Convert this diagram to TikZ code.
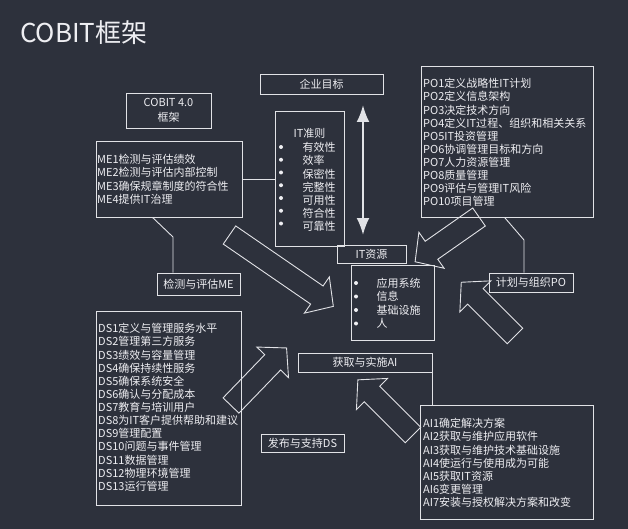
\documentclass[tikz,border=0pt]{standalone}
\usepackage{fontspec}
\setmainfont{Noto Sans CJK SC}
\usepackage{xcolor}
\usetikzlibrary{arrows.meta,calc}

\definecolor{bgcol}{RGB}{45,49,60}
\definecolor{linecol}{RGB}{225,226,230}
\definecolor{txtcol}{RGB}{238,238,242}
\newcommand{\listfont}{\fontsize{11}{12.75}\selectfont}
\newcommand{\boxfont}{\fontsize{11}{15}\selectfont}
% hollow block arrow: x, y (back end), angle, length
\newcommand{\blockarrow}[4]{%
  \draw[blockline, shift={(#1,#2)}, rotate=#3]
    (0,-11) -- ({#4-20},-11) -- ({#4-20},-22) -- (#4,0) -- ({#4-20},22) -- ({#4-20},11) -- (0,11) -- cycle;}

\tikzset{
  box/.style={draw=linecol, line width=0.9pt, inner sep=0pt, text=txtcol, font=\boxfont},
  listtext/.style={inner sep=0pt, anchor=north west, text=txtcol, font=\listfont},
  conn/.style={draw=linecol, line width=0.9pt},
  blockline/.style={draw=linecol, line width=0.9pt, line join=miter},
}

\begin{document}
\begin{tikzpicture}[x=1pt,y=-1pt]
\fill[bgcol] (0,0) rectangle (628,529);
\useasboundingbox (0,0) rectangle (628,529);
%==================== Titolo ==================
\node[anchor=west, inner sep=0pt, text=txtcol, font=\fontsize{26}{30}\selectfont] (title) at (20,33) {COBIT框架};
\node[box, minimum width=85pt, minimum height=35pt, align=center] (cobit) at (168.5,110.5) {COBIT 4.0\\框架};
%==================== Centro ==================
\node[box, minimum width=123pt, minimum height=20pt] (goal) at (321.5,84) {企业目标};
\node[box, minimum width=69pt, minimum height=135pt] (crit) at (309.5,178.5) {};
\node[inner sep=0pt, text=txtcol, font=\listfont] (crithead) at (309.5,133) {IT准则};
\node[listtext] (critlist) at (302.5,142.3) {\begin{tabular}{@{}l@{}}
有效性\\ 效率\\ 保密性\\ 完整性\\ 可用性\\ 符合性\\ 可靠性\end{tabular}};
\foreach \i in {0,...,6} \fill[txtcol] (281,{147+12.75*\i}) circle (2pt);
\coordinate (goaltop) at (363,105);
\coordinate (goalbot) at (363,235);
\draw[{Latex[length=17pt,width=13pt]}-{Latex[length=17pt,width=13pt]}, line width=2.2pt, linecol] (goaltop) -- (goalbot);
\node[box, minimum width=69pt, minimum height=18pt] (res) at (371.5,254) {IT资源};
\node[box, minimum width=83pt, minimum height=75pt] (resbox) at (392.5,302.5) {};
\node[listtext, font=\fontsize{11}{13.5}\selectfont] (reslist) at (376.5,277.8) {\begin{tabular}{@{}l@{}}
应用系统\\ 信息\\ 基础设施\\ 人\end{tabular}};
\foreach \i in {0,...,3} \fill[txtcol] (356,{283+13.5*\i}) circle (2pt);
%==================== ME ==================
\node[box, minimum width=146pt, minimum height=76pt] (me) at (169,179) {};
\node[listtext] (melist) at (97,154.3) {\begin{tabular}{@{}l@{}}
ME1检测与评估绩效\\ ME2检测与评估内部控制\\ ME3确保规章制度的符合性\\ ME4提供IT治理\end{tabular}};
\node[box, minimum width=83pt, minimum height=22pt] (melabel) at (198.5,284) {检测与评估ME};
\coordinate (mebend) at (173,237);
\draw[conn] ($(me.south west)+(57,0)$) -- (mebend) -- (mebend |- melabel.north);
\draw[conn] (me.east) -- (me.east -| crit.west);
%==================== PO ==================
\node[box, minimum width=172pt, minimum height=151pt] (po) at (507,141.5) {};
\node[listtext] (polist) at (423,78.3) {\begin{tabular}{@{}l@{}}
PO1定义战略性IT计划\\ PO2定义信息架构\\ PO3决定技术方向\\ PO4定义IT过程、组织和相关关系\\
PO5IT投资管理\\ PO6协调管理目标和方向\\ PO7人力资源管理\\ PO8质量管理\\
PO9评估与管理IT风险\\ PO10项目管理\end{tabular}};
\node[box, minimum width=84pt, minimum height=19pt] (polabel) at (531,282.5) {计划与组织PO};
\coordinate (pobend) at (524,240);
\draw[conn] ($(po.south west)+(84,0)$) -- (pobend) -- (pobend |- polabel.north);
%==================== AI ==================
\node[box, minimum width=134pt, minimum height=19pt] (ailabel) at (365,362.5) {获取与实施AI};
\node[box, minimum width=173pt, minimum height=114pt] (ai) at (506.5,462) {};
\node[listtext] (ailist) at (423,418.3) {\begin{tabular}{@{}l@{}}
AI1确定解决方案\\ AI2获取与维护应用软件\\ AI3获取与维护技术基础设施\\ AI4使运行与使用成为可能\\
AI5获取IT资源\\ AI6变更管理\\ AI7安装与授权解决方案和改变\end{tabular}};
\draw[conn] (ailabel.south east) -- (ailabel.south east |- ai.north);
%==================== DS ==================
\node[box, minimum width=145pt, minimum height=194pt] (ds) at (168.5,408) {};
\node[listtext] (dslist) at (98,323.3) {\begin{tabular}{@{}l@{}}
DS1定义与管理服务水平\\ DS2管理第三方服务\\ DS3绩效与容量管理\\ DS4确保持续性服务\\
DS5确保系统安全\\ DS6确认与分配成本\\ DS7教育与培训用户\\ DS8为IT客户提供帮助和建议\\
DS9管理配置\\ DS10问题与事件管理\\ DS11数据管理\\ DS12物理环境管理\\ DS13运行管理\end{tabular}};
\node[box, minimum width=83pt, minimum height=18pt] (dslabel) at (302.5,443) {发布与支持DS};
%==================== Frecce ==================
\blockarrow{229.5}{235}{-34.5}{126}
\blockarrow{479}{217}{215}{78}
\blockarrow{515}{336}{135}{76}
\blockarrow{413}{435}{135}{78}
\blockarrow{231}{405.5}{46}{80}
\end{tikzpicture}
\end{document}
